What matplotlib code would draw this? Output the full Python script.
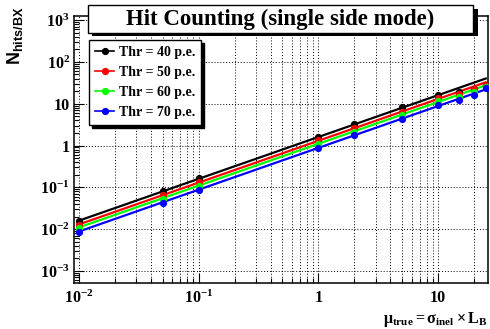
"""Hit counting vs. mu_true, ROOT-style log-log plot."""
import matplotlib
matplotlib.use("Agg")
import matplotlib.pyplot as plt
from matplotlib.lines import Line2D
from matplotlib.patches import Rectangle

# measured points
mu = [0.01, 0.05, 0.1, 1, 2, 5, 10, 15, 20, 25]
n40 = [0.0158, 0.080, 0.165, 1.64, 3.2, 8.2, 16.0, 19.5, 23.0, 26.5]
n50 = [0.0125, 0.066, 0.132, 1.32, 2.6, 6.4, 13.5, 17.0, 22.0, 27.0]
n60 = [0.0105, 0.053, 0.110, 1.08, 2.15, 5.3, 11.3, 14.5, 19.0, 25.0]
n70 = [0.0084, 0.043, 0.087, 0.86, 1.74, 4.4, 9.2, 12.5, 16.5, 23.5]

# linear fit lines (end points)
fit_mu = [0.01, 25]
fit40 = [0.016, 40]
fit50 = [0.013, 32.5]
fit60 = [0.011, 27.5]
fit70 = [0.0088, 22]

labels = ["Thr = 40 p.e.", "Thr = 50 p.e.", "Thr = 60 p.e.", "Thr = 70 p.e."]
colors = ["black", "#ff0000", "#00ff00", "#0000ff"]

xticks = [0.01, 0.1, 1, 10]
xticklabels = [r"$10^{-2}$", r"$10^{-1}$", "1", "10"]
yticks = [1e-3, 1e-2, 1e-1, 1, 10, 1e2, 1e3]
yticklabels = [r"$10^{-3}$", r"$10^{-2}$", r"$10^{-1}$", "1", "10",
               r"$10^{2}$", r"$10^{3}$"]

plt.rcParams["font.family"] = "Liberation Serif"
plt.rcParams["font.weight"] = "bold"
plt.rcParams["mathtext.fontset"] = "custom"
plt.rcParams["mathtext.rm"] = "Liberation Serif:bold"
plt.rcParams["mathtext.it"] = "Liberation Serif:bold"
plt.rcParams["mathtext.bf"] = "Liberation Serif:bold"
plt.rcParams["mathtext.sf"] = "Liberation Sans:bold"

W, H = 490, 329
fig = plt.figure(figsize=(W / 100, H / 100), dpi=100)
ax = fig.add_axes([74 / W, 1 - 283 / H, (488 - 74) / W, (283 - 16) / H])
ax.set_xscale("log")
ax.set_yscale("log")
ax.set_xlim(0.00908, 26.1)
ax.set_ylim(5.16e-4, 1250)

series = [(n40, fit40), (n50, fit50), (n60, fit60), (n70, fit70)]
handles = []
for (pts, fit), c, lab in zip(series, colors, labels):
    ax.plot(fit_mu, fit, color=c, lw=1.6, zorder=3)
    ax.plot(mu, pts, "o", color=c, ms=4.2, zorder=4)
    handles.append(Line2D([], [], color=c, lw=1.2, marker="o", ms=4.2))

ax.set_xticks(xticks)
ax.set_xticklabels(xticklabels)
ax.set_yticks(yticks)
ax.set_yticklabels(yticklabels)
ax.tick_params(which="both", direction="in", labelsize=11.5)
ax.tick_params(which="major", length=7, width=0.8)
ax.tick_params(which="minor", length=3.5, width=0.8)
ax.tick_params(axis="x", pad=5)
ax.tick_params(axis="y", pad=3)

ax.grid(True, which="both", axis="x", color="black", lw=0.7, ls=(0, (1, 2)))
ax.grid(True, which="major", axis="y", color="black", lw=0.7, ls=(0, (1, 2)))
for s in ax.spines.values():
    s.set_linewidth(1.1)

leg = ax.legend(handles, labels, loc="upper left",
                bbox_to_anchor=(89 / W, 1 - 40 / H),
                bbox_transform=fig.transFigure,
                fancybox=False, framealpha=1, edgecolor="black",
                shadow={"color": "black", "alpha": 1},
                prop={"size": 10, "weight": "bold"},
                handlelength=1.35, handletextpad=0.35, labelspacing=0.5,
                borderpad=0.45, borderaxespad=0)
leg.get_frame().set_linewidth(1.0)
leg.set_zorder(10)

# title pave with shadow
fig.patches.append(Rectangle((92 / W, 1 - 36 / H), (478 - 92) / W, (36 - 9) / H,
                             transform=fig.transFigure, facecolor="black",
                             edgecolor="none", zorder=5))
fig.patches.append(Rectangle((88 / W, 1 - 33 / H), (473 - 88) / W, (33 - 5) / H,
                             transform=fig.transFigure, facecolor="white",
                             edgecolor="black", lw=1.0, zorder=6))
fig.text(280 / W, 1 - 19.5 / H, "Hit Counting (single side mode)",
         ha="center", va="center", fontsize=16.5, fontweight="bold", zorder=7)

fig.text(15 / W, 1 - 7 / H, r"$\mathsf{N_{hits/BX}}$", rotation=90,
         ha="center", va="top", fontsize=13)
fig.text(488 / W, 6 / H, r"$\mu_{true} = \sigma_{inel} \times L_B$",
         ha="right", va="baseline", fontsize=11.5)

fig.savefig("out.png", dpi=100)
